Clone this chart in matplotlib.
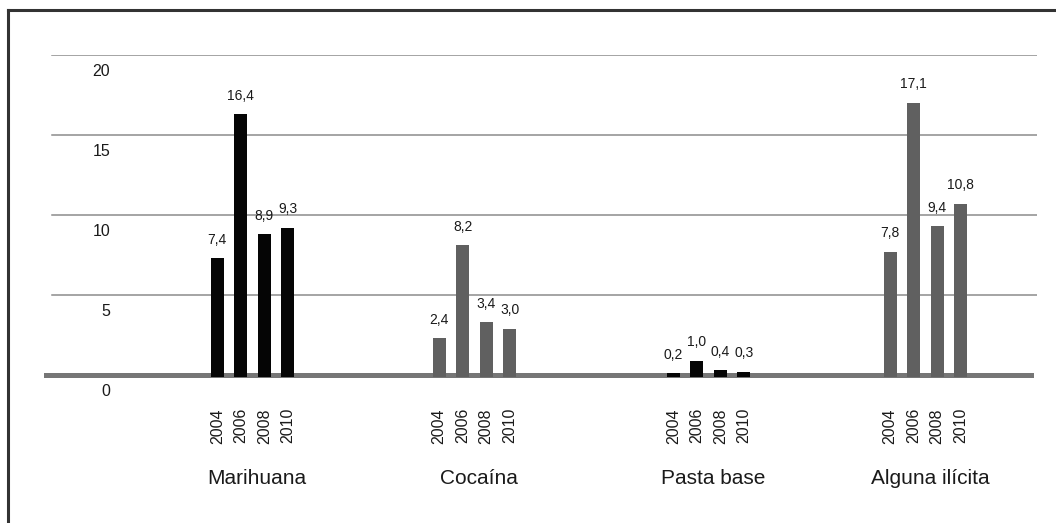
import matplotlib.pyplot as plt
from matplotlib.lines import Line2D

plt.rcParams['font.family'] = ['Liberation Sans', 'DejaVu Sans']

groups = ['Marihuana', 'Cocaína', 'Pasta base', 'Alguna ilícita']
years = ['2004', '2006', '2008', '2010']
values = [
    [7.4, 16.4, 8.9, 9.3],
    [2.4, 8.2, 3.4, 3.0],
    [0.2, 1.0, 0.4, 0.3],
    [7.8, 17.1, 9.4, 10.8],
]
yticks = [0, 5, 10, 15, 20]

# layout (x in "bar slot" units, one slot = 23.5 px)
group_pos = [8.79, 18.23, 28.2, 37.42]
offsets = [-1.5, -0.5, 0.5, 1.5]
bar_colors = ['#050505', '#606060', '#050505', '#606060']
W, H = 1056, 523
slot = 23.5
ppu = 16.0  # pixels per y unit

fig = plt.figure(figsize=(W / 100, H / 100), dpi=100)
x0, x1 = 46, 1037
y0, y20 = 375, 55
ax = fig.add_axes([x0 / W, (H - y0) / H, (x1 - x0) / W, (y0 - y20) / H])
ax.set_xlim(0, (x1 - x0) / slot)
ax.set_ylim(0, 20)
ax.axis('off')

for v in yticks[1:]:
    ax.axhline(v, xmin=6 / (x1 - x0), xmax=1, color='#8c8c8c', lw=1.1, zorder=1)
ax.axhline(0, xmin=0, xmax=(1031 - x0) / (x1 - x0), color='#767676', lw=3.6,
           zorder=2, clip_on=False)

for v in yticks:
    ax.text((110 - x0) / slot, v - 17 / ppu, str(v), ha='right', va='center',
            fontsize=11.5, color='#1a1a1a', clip_on=False)

for g, name in enumerate(groups):
    xs = [group_pos[g] + o for o in offsets]
    # bars start just under the zero line so they sit on top of it
    ax.bar(xs, values[g], width=13 / slot, bottom=-1.5 / ppu, color=bar_colors[g],
           zorder=3, clip_on=False)
    for x, v, yr in zip(xs, values[g], years):
        ax.text(x, v + 10 / ppu, f'{v:.1f}'.replace('.', ','), ha='center',
                va='bottom', fontsize=10, color='#1a1a1a', clip_on=False)
        ax.text(x, -33 / ppu, yr, ha='center', va='top', rotation=90,
                fontsize=11.5, color='#1a1a1a', clip_on=False)
    ax.text(group_pos[g] + 0.2, -103 / ppu, name, ha='center', va='center',
            fontsize=15, color='#1a1a1a', clip_on=False)

# outer frame (left and top edges)
fig.add_artist(Line2D([7.5 / W, 7.5 / W], [0, 1 - 10 / H], color='#333333', lw=2.2))
fig.add_artist(Line2D([7.5 / W, 1], [1 - 10 / H, 1 - 10 / H], color='#333333', lw=2.2))

fig.savefig('out.png', dpi=100)
